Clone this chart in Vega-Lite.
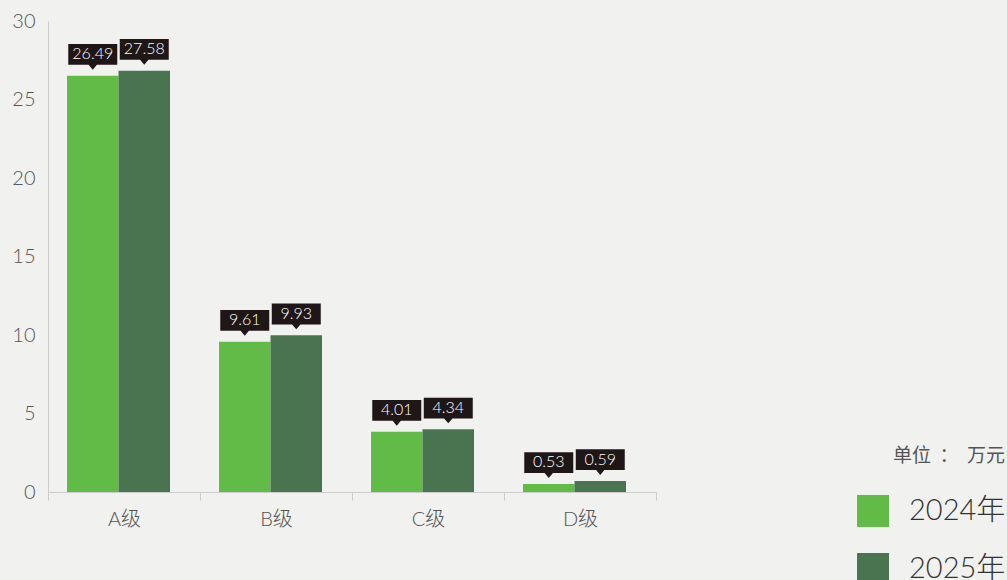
{
  "$schema": "https://vega.github.io/schema/vega-lite/v6.json",
  "autosize": "none",
  "width": 608,
  "height": 471,
  "padding": {"left": 48, "top": 21, "right": 351, "bottom": 88},
  "background": "#f1f1ef",
  "config": {
    "view": {"stroke": null},
    "font": "Lato, Noto Sans CJK SC",
    "legend": {"padding": 0}
  },
  "data": {
    "values": [
      {"grade": "A级", "year": "2024年", "value": 26.52, "label": "26.49"},
      {"grade": "A级", "year": "2025年", "value": 26.83, "label": "27.58"},
      {"grade": "B级", "year": "2024年", "value": 9.57, "label": "9.61"},
      {"grade": "B级", "year": "2025年", "value": 9.98, "label": "9.93"},
      {"grade": "C级", "year": "2024年", "value": 3.84, "label": "4.01"},
      {"grade": "C级", "year": "2025年", "value": 3.99, "label": "4.34"},
      {"grade": "D级", "year": "2024年", "value": 0.51, "label": "0.53"},
      {"grade": "D级", "year": "2025年", "value": 0.70, "label": "0.59"}
    ]
  },
  "encoding": {
    "x": {
      "field": "grade", "type": "nominal", "sort": null,
      "scale": {"paddingInner": 0, "paddingOuter": 0},
      "axis": {
        "title": null, "labelAngle": 0, "tickBand": "extent",
        "domainColor": "#cccccc", "tickColor": "#cccccc", "tickSize": 8,
        "labelFontSize": 20, "labelColor": "#555555", "labelPadding": 9,
        "labelFont": "Lato, Noto Sans CJK SC", "labelFontWeight": 300
      }
    },
    "xOffset": {
      "field": "year", "type": "nominal",
      "scale": {"paddingInner": 0, "paddingOuter": 0.476, "align": 0.388}
    },
    "y": {
      "field": "value", "type": "quantitative",
      "scale": {"domain": [0, 30]},
      "axis": {
        "title": null, "grid": false, "ticks": false, "tickCount": 6,
        "domainColor": "#cccccc", "labelFontSize": 20, "labelColor": "#555555",
        "labelPadding": 13, "labelFont": "Lato, Noto Sans CJK SC", "labelFontWeight": 300
      }
    }
  },
  "layer": [
    {
      "mark": {"type": "bar"},
      "encoding": {
        "color": {
          "field": "year", "type": "nominal",
          "scale": {"domain": ["2024年", "2025年"], "range": ["#62bb46", "#4a7350"]},
          "legend": {
            "orient": "none", "legendX": 809, "legendY": 426,
            "title": "单位\u00a0\u00a0：\u00a0\u00a0万元", "titleAnchor": "end",
            "titleFontSize": 19, "titleColor": "#555555", "titleFontWeight": "normal",
            "titleFont": "Noto Sans CJK SC", "titlePadding": 29,
            "symbolType": "square", "symbolSize": 1024, "symbolStrokeWidth": 0,
            "symbolOpacity": 1,
            "labelFontSize": 29, "labelColor": "#333333", "labelOffset": 20,
            "labelFont": "Lato, Noto Sans CJK SC", "labelFontWeight": 300,
            "rowPadding": 26
          }
        }
      }
    },
    {
      "mark": {
        "type": "point",
        "shape": "M0,0 L-0.17,-0.2 H-1 V-1.05 H1 V-0.2 H0.17 Z",
        "filled": true, "color": "#1e1617", "opacity": 1, "strokeWidth": 0,
        "size": 2401, "yOffset": -6
      }
    },
    {
      "mark": {"type": "text", "color": "#ffffff", "fontSize": 16, "dy": -21.5, "baseline": "middle", "font": "Lato", "fontWeight": 300},
      "encoding": {"text": {"field": "label", "type": "nominal"}}
    }
  ]
}
